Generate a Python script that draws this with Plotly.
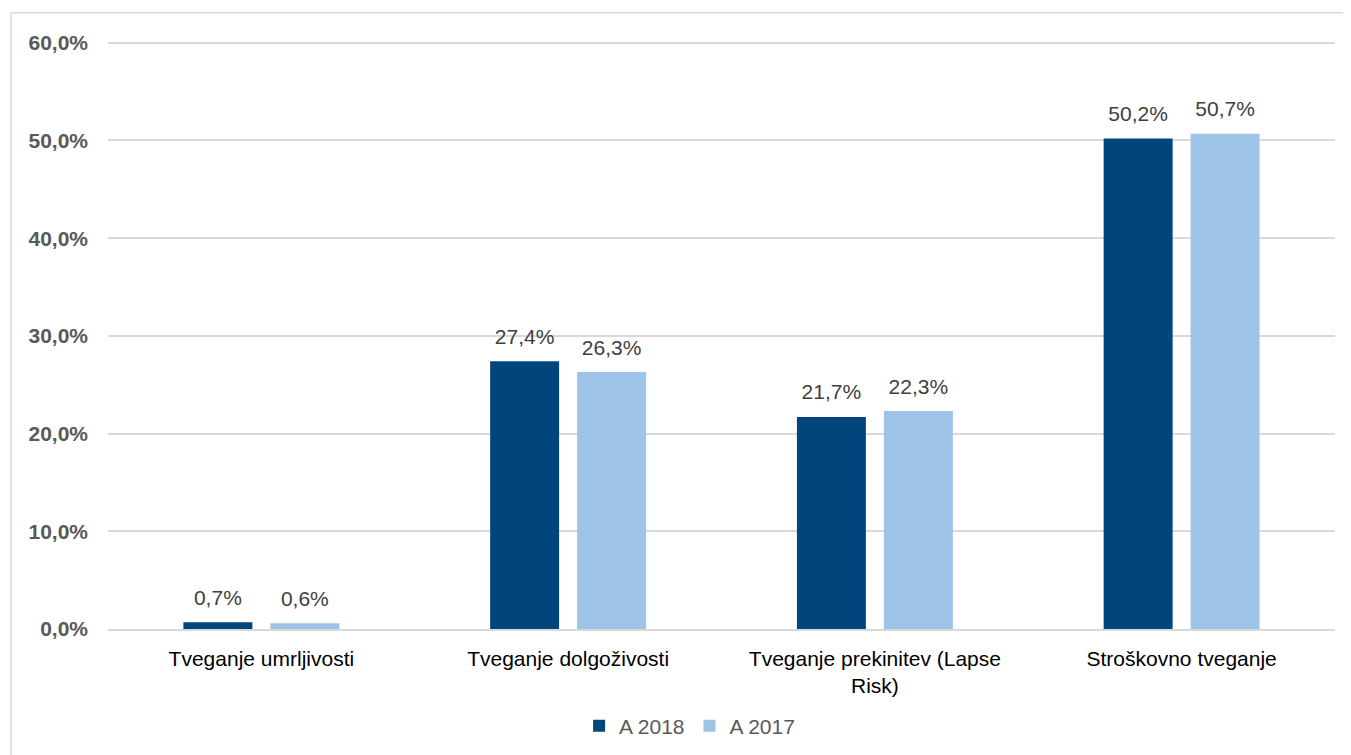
import plotly.graph_objects as go

categories = ["Tveganje umrljivosti", "Tveganje dolgoživosti",
              "Tveganje prekinitev (Lapse<br>Risk)", "Stroškovno tveganje"]
series_names = ["A 2018", "A 2017"]
values_2018 = [0.7, 27.4, 21.7, 50.2]
values_2017 = [0.6, 26.3, 22.3, 50.7]
y_ticks = [0, 10, 20, 30, 40, 50, 60]
y_tick_labels = ["0,0%", "10,0%", "20,0%", "30,0%", "40,0%", "50,0%", "60,0%"]

colors = ["#00457C", "#9DC3E6"]
FONT = "Liberation Sans, Arial, sans-serif"
BARGAP = 0.433

def fmt(v):
    return f"{v:.1f}%".replace(".", ",")

fig = go.Figure()
for i, (name, vals, col) in enumerate(zip(series_names, [values_2018, values_2017], colors)):
    fig.add_trace(go.Bar(
        x=categories, y=vals, name=name, marker=dict(color=col, line=dict(width=0)),
        offsetgroup=str(i), hoverinfo="skip",
    ))
for i, vals in enumerate([values_2018, values_2017]):
    fig.add_trace(go.Scatter(
        x=categories, y=vals, mode="markers+text", text=[fmt(v) for v in vals],
        textposition="top center", offsetgroup=str(i),
        marker=dict(size=18, color="rgba(0,0,0,0)"),
        textfont=dict(family=FONT, size=21, color="#404040"),
        showlegend=False, cliponaxis=False, hoverinfo="skip",
    ))

fig.update_layout(
    width=1351, height=755,
    paper_bgcolor="white", plot_bgcolor="white",
    margin=dict(l=100, r=24, t=25, b=134),
    barmode="group", bargap=BARGAP, bargroupgap=0.207,
    scattermode="group", scattergap=BARGAP,
    font=dict(family=FONT),
    showlegend=True,
    legend=dict(orientation="h", x=0.474, xanchor="center", y=-0.163, yanchor="middle",
                font=dict(family=FONT, size=21, color="#595959"),
                itemwidth=30, traceorder="normal"),
    shapes=[dict(type="rect", xref="paper", yref="paper",
                 x0=-0.079, x1=1.2, y0=-0.5, y1=1.034,
                 line=dict(color="#d9d9d9", width=1.5), layer="below")],
)
fig.update_xaxes(
    showgrid=False, showline=True, linecolor="#d9d9d9", linewidth=1.5,
    ticks="", tickfont=dict(family=FONT, size=21, color="#000000"),
    ticklabelstandoff=10,
)
fig.update_yaxes(
    range=[0, 61], tickvals=y_ticks, ticktext=y_tick_labels,
    showgrid=True, gridcolor="#d9d9d9", gridwidth=1.5, zeroline=False,
    showline=False, ticks="",
    tickfont=dict(family=FONT, size=21, color="#595959", weight="bold"),
    ticklabelstandoff=19,
)
fig.write_html("out.html")
